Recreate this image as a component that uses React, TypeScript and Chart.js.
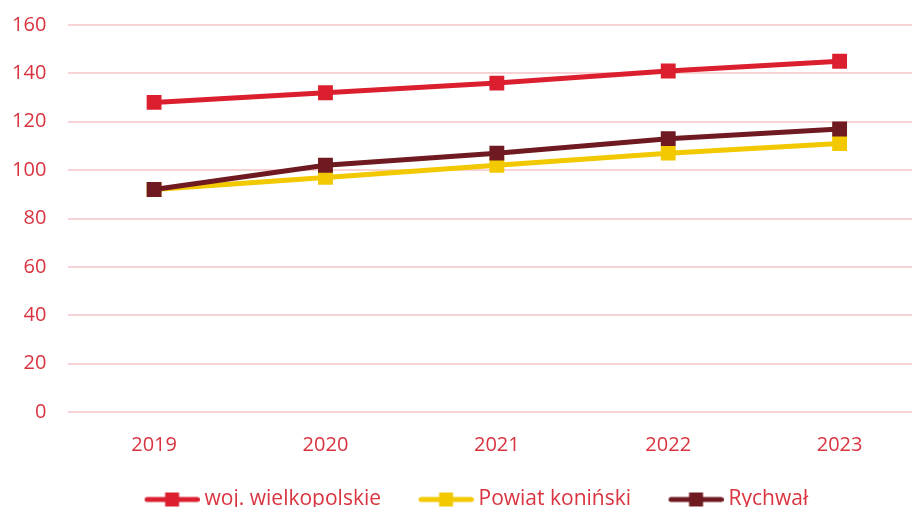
import React, { useEffect, useRef } from "react";
import { Chart, registerables } from "chart.js";

Chart.register(...registerables);

const years = ["2019", "2020", "2021", "2022", "2023"];
const wojValues = [128, 132, 136, 141, 145];
const powiatValues = [92, 97, 102, 107, 111];
const rychwalValues = [92, 102, 107, 113, 117];
const seriesNames = ["woj. wielkopolskie", "Powiat koniński", "Rychwał"];
const yMin = 0;
const yMax = 160;
const yStep = 20;

const RED = "#db1f2f";
const YELLOW = "#f2c900";
const DARK = "#6f1920";
const TEXT = "#d9343f";
const GRID = "#f7d3d6";
const FONT = "'Open Sans', sans-serif";

function makeIcon(color: string): HTMLCanvasElement {
  const c = document.createElement("canvas");
  const L = 22;
  c.width = 77;
  c.height = 16;
  const ctx = c.getContext("2d")!;
  ctx.strokeStyle = color;
  ctx.lineWidth = 5;
  ctx.lineCap = "round";
  ctx.beginPath();
  ctx.moveTo(L + 2.5, 8);
  ctx.lineTo(c.width - 2.5, 8);
  ctx.stroke();
  ctx.fillStyle = color;
  ctx.fillRect(L + 20.5, 1, 14, 14);
  return c;
}

export default function App() {
  const ref = useRef<HTMLCanvasElement | null>(null);

  useEffect(() => {
    if (!ref.current) return;
    const colors = [RED, YELLOW, DARK];
    const icons = colors.map(makeIcon);
    const chart = new Chart(ref.current, {
      type: "line",
      data: {
        labels: years,
        datasets: [
          { label: seriesNames[0], data: wojValues, order: 2 },
          { label: seriesNames[1], data: powiatValues, order: 1 },
          { label: seriesNames[2], data: rychwalValues, order: 0 },
        ].map((d, i) => ({
          ...d,
          borderColor: colors[i],
          backgroundColor: colors[i],
          borderWidth: 5,
          pointStyle: "rect",
          pointRadius: 10.5,
          pointHoverRadius: 10.5,
          pointBorderWidth: 0,
          pointBackgroundColor: colors[i],
          tension: 0,
          fill: false,
        })),
      },
      options: {
        responsive: false,
        animation: false,
        devicePixelRatio: 1,
        layout: { autoPadding: false, padding: { left: 11, right: 14.7, top: 25, bottom: 0 } },
        plugins: {
          tooltip: { enabled: false },
          legend: {
            position: "bottom",
            align: "center",
            labels: {
              usePointStyle: true,
              pointStyleWidth: 66,
              padding: 21,
              color: TEXT,
              font: { family: FONT, size: 21 },
              generateLabels: () =>
                seriesNames.map((name, i) => ({
                  text: name,
                  pointStyle: icons[i],
                  datasetIndex: i,
                  fillStyle: colors[i],
                  strokeStyle: colors[i],
                  lineWidth: 0,
                  hidden: false,
                  fontColor: TEXT,
                })),
            },
          },
        },
        scales: {
          x: {
            type: "category",
            offset: true,
            grid: { display: false, drawTicks: false },
            border: { display: false },
            ticks: { color: TEXT, font: { family: FONT, size: 20 }, padding: 21 },
            afterFit: (axis: any) => {
              axis.height = 56;
            },
          },
          y: {
            min: yMin,
            max: yMax,
            grid: { color: GRID, lineWidth: 2, drawTicks: false },
            border: { display: false },
            ticks: {
              stepSize: yStep,
              color: TEXT,
              font: { family: FONT, size: 20 },
              padding: 22,
            },
            afterFit: (axis: any) => {
              axis.width = 57.4;
              axis.paddingTop = 0;
              axis.paddingBottom = 0;
            },
          },
        },
      },
    } as any);
    return () => chart.destroy();
  }, []);

  return (
    <div
      style={{
        position: "fixed",
        left: 0,
        top: 0,
        width: 912,
        height: 507,
        overflow: "hidden",
        background: "#fff",
      }}
    >
      <canvas ref={ref} width={940} height={520} style={{ width: 940, height: 520, display: "block" }} />
    </div>
  );
}
